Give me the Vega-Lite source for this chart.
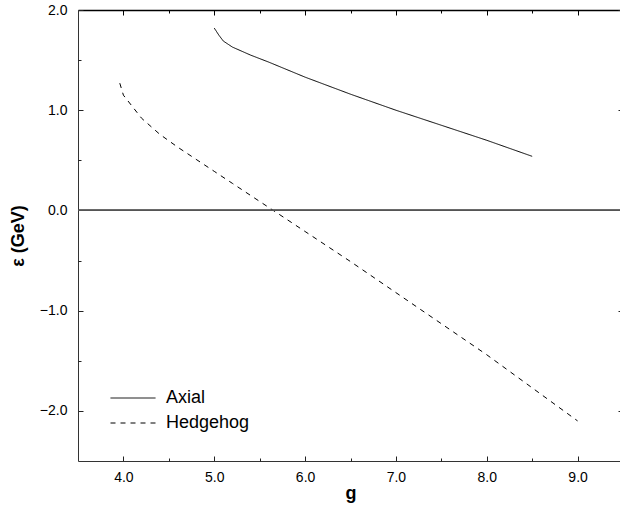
{
  "$schema": "https://vega.github.io/schema/vega-lite/v6.json",
  "autosize": "none",
  "padding": {"left": 78, "top": 10, "right": 0, "bottom": 45},
  "width": 545,
  "height": 451,
  "background": "white",
  "config": {
    "view": {"stroke": null},
    "font": "Liberation Sans",
    "axis": {"grid": false, "domainColor": "#333", "tickColor": "#222", "labelColor": "black", "titleColor": "black", "labelFont": "Liberation Sans", "titleFont": "Liberation Sans"}
  },
  "data": {"values": [
    {"series": "Axial", "g": 5.0, "e": 1.82},
    {"series": "Axial", "g": 5.05, "e": 1.75},
    {"series": "Axial", "g": 5.1, "e": 1.69},
    {"series": "Axial", "g": 5.2, "e": 1.63},
    {"series": "Axial", "g": 5.4, "e": 1.55},
    {"series": "Axial", "g": 5.6, "e": 1.48},
    {"series": "Axial", "g": 6.0, "e": 1.33},
    {"series": "Axial", "g": 6.5, "e": 1.16},
    {"series": "Axial", "g": 7.0, "e": 1.0},
    {"series": "Axial", "g": 7.5, "e": 0.85},
    {"series": "Axial", "g": 8.0, "e": 0.70},
    {"series": "Axial", "g": 8.5, "e": 0.54},
    {"series": "Hedgehog", "g": 3.96, "e": 1.27},
    {"series": "Hedgehog", "g": 4.0, "e": 1.15},
    {"series": "Hedgehog", "g": 4.2, "e": 0.92},
    {"series": "Hedgehog", "g": 4.4, "e": 0.76},
    {"series": "Hedgehog", "g": 4.6, "e": 0.63},
    {"series": "Hedgehog", "g": 4.8, "e": 0.51},
    {"series": "Hedgehog", "g": 5.0, "e": 0.39},
    {"series": "Hedgehog", "g": 5.2, "e": 0.27},
    {"series": "Hedgehog", "g": 5.4, "e": 0.15},
    {"series": "Hedgehog", "g": 5.6, "e": 0.03},
    {"series": "Hedgehog", "g": 5.8, "e": -0.09},
    {"series": "Hedgehog", "g": 6.0, "e": -0.21},
    {"series": "Hedgehog", "g": 6.5, "e": -0.51},
    {"series": "Hedgehog", "g": 7.0, "e": -0.82},
    {"series": "Hedgehog", "g": 7.5, "e": -1.13},
    {"series": "Hedgehog", "g": 8.0, "e": -1.44},
    {"series": "Hedgehog", "g": 8.5, "e": -1.77},
    {"series": "Hedgehog", "g": 9.0, "e": -2.10}
  ]},
  "resolve": {"axis": {"x": "independent", "y": "independent"}},
  "layer": [
    {
      "mark": {"type": "line", "color": "black", "strokeWidth": 1},
      "encoding": {
        "x": {"field": "g", "type": "quantitative",
          "scale": {"domain": [3.5, 9.5], "nice": false, "zero": false},
          "axis": {"orient": "bottom", "values": [4, 5, 6, 7, 8, 9], "format": ".1f", "tickSize": -5, "labelPadding": 14, "labelFontSize": 14, "title": "g", "titleFontSize": 18, "titleFontWeight": "bold", "titlePadding": 0}},
        "y": {"field": "e", "type": "quantitative",
          "scale": {"domain": [-2.5, 2.0], "nice": false, "zero": false},
          "axis": {"orient": "left", "values": [-2, -1, 0, 1, 2], "format": ".1f", "tickSize": -5, "labelPadding": 16, "labelFontSize": 14, "title": "ε (GeV)", "titleFontSize": 18, "titleFontWeight": "bold", "titlePadding": 12}},
        "strokeDash": {"field": "series", "type": "nominal",
          "scale": {"domain": ["Axial", "Hedgehog"], "range": [[1, 0], [5, 5]]},
          "legend": {"title": null, "orient": "none", "legendX": 32, "legendY": 378, "symbolType": "stroke", "symbolSize": 2025, "symbolStrokeWidth": 1, "symbolStrokeColor": "black", "labelFontSize": 18, "labelFont": "Liberation Sans", "labelColor": "black", "labelOffset": 10, "clipHeight": 20, "rowPadding": 5}},
        "detail": {"field": "series"}
      }
    },
    {
      "mark": {"type": "rule", "color": "#555", "strokeWidth": 1},
      "encoding": {
        "x": {"datum": 3.5, "type": "quantitative", "axis": {"orient": "top", "values": [4, 5, 6, 7, 8, 9], "labels": false, "tickSize": -5, "domainColor": "black", "domainWidth": 1.3, "tickColor": "black", "title": null}},
        "x2": {"datum": 9.5},
        "y": {"datum": 0, "type": "quantitative", "axis": {"orient": "right", "values": [-2, -1, 0, 1, 2], "labels": false, "tickSize": -5, "title": null}}
      }
    },
    {
      "mark": {"type": "rule", "color": "#555", "strokeWidth": 1, "strokeOpacity": 0},
      "encoding": {
        "x": {"datum": 3.5, "type": "quantitative", "axis": {"orient": "bottom", "values": [4.5, 5.5, 6.5, 7.5, 8.5], "labels": false, "domain": false, "tickSize": -3, "title": null}},
        "x2": {"datum": 9.5},
        "y": {"datum": 0, "type": "quantitative", "axis": {"orient": "left", "values": [-1.5, -0.5, 0.5, 1.5], "labels": false, "domain": false, "tickSize": -3, "title": null}}
      }
    },
    {
      "mark": {"type": "rule", "color": "#555", "strokeWidth": 1, "strokeOpacity": 0},
      "encoding": {
        "x": {"datum": 3.5, "type": "quantitative", "axis": {"orient": "top", "values": [4.5, 5.5, 6.5, 7.5, 8.5], "labels": false, "domain": false, "tickSize": -3, "tickColor": "black", "title": null}},
        "x2": {"datum": 9.5},
        "y": {"datum": 0, "type": "quantitative", "axis": {"orient": "right", "values": [-1.5, -0.5, 0.5, 1.5], "labels": false, "domain": false, "tickSize": -3, "title": null}}
      }
    }
  ]
}
